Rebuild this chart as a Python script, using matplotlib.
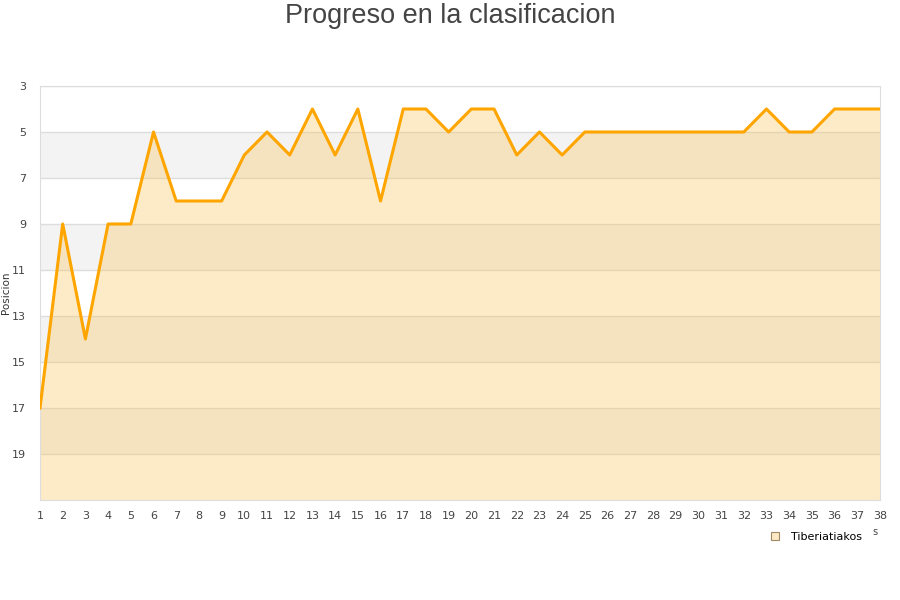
import matplotlib
matplotlib.use("Agg")
import matplotlib.pyplot as plt
from matplotlib.lines import Line2D

jornadas = list(range(1, 39))
posicion = [17, 9, 14, 9, 9, 5, 8, 8, 8, 6, 5, 6, 4, 6, 4, 8, 4, 4, 5, 4,
            4, 6, 5, 6, 5, 5, 5, 5, 5, 5, 5, 5, 4, 5, 5, 4, 4, 4]
equipo = "Tiberiatiakos"
y_ticks = [3, 5, 7, 9, 11, 13, 15, 17, 19]

fig = plt.figure(figsize=(9, 6), dpi=100)
ax = fig.add_axes([40/900, 1-500/600, 840/900, 414/600])

ymin, ymax = 3, 21
# alternating bands
for lo in range(5, 21, 4):
    ax.axhspan(lo, lo + 2, color="#f3f3f3", zorder=0, lw=0)
for y in y_ticks:
    ax.axhline(y, color="#dddddd", lw=1, zorder=1)

ax.fill_between(jornadas, posicion, ymax, color="#fbc04b", alpha=0.3, lw=0, zorder=2)
ax.plot(jornadas, posicion, color="#ffa500", lw=2.2, zorder=3)

ax.set_xlim(1, 38)
ax.set_ylim(ymax, ymin)
ax.set_xticks(jornadas)
ax.set_yticks(y_ticks)
ax.tick_params(axis="both", length=0, labelsize=8, colors="#444444")
ax.tick_params(axis="x", pad=8)
ax.tick_params(axis="y", pad=10)
for s in ax.spines.values():
    s.set_color("#dddddd")
ax.set_ylabel("Posicion", fontsize=7.5, color="#333333")
ax.yaxis.set_label_coords(-29/840, 0.5)

fig.text(0.5, 1-16/600, "Progreso en la clasificacion", ha="center", va="center",
         fontsize=19.5, color="#444444", family="Liberation Sans")
fig.text(875/900, 1-532/600, "s", fontsize=7, color="#444444", ha="center", va="center")

handle = Line2D([], [], marker="s", linestyle="none", markersize=6,
                markerfacecolor="#fde9c4", markeredgecolor="#a08a66", markeredgewidth=0.8)
fig.legend([handle], [equipo], loc="center", bbox_to_anchor=(813/900, 1-537/600),
           frameon=False, fontsize=8, handletextpad=0.4, borderpad=0)

fig.savefig("out.png", dpi=100)
